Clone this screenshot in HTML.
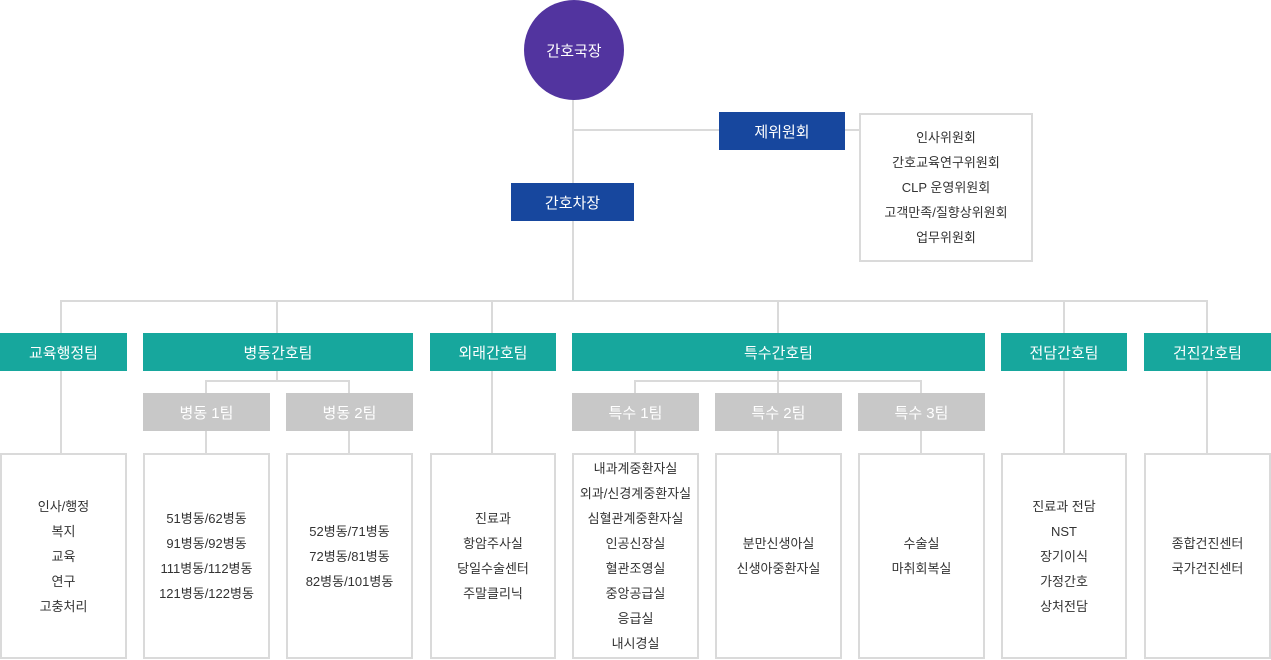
<!DOCTYPE html>
<html><head><meta charset="utf-8"><style>
body{margin:0;width:1271px;height:660px;background:#fff;position:relative;overflow:hidden;font-family:"Liberation Sans","Noto Sans CJK KR",sans-serif}
.a{position:absolute;box-sizing:border-box}
.l{position:absolute;background:#dadada}
.c{display:flex;align-items:center;justify-content:center;text-align:center}
.t{background:#17a79d;color:#fff;font-size:15px;height:38px;top:333px}
.n{background:#17479e;color:#fff;font-size:15px;height:38px}
.s{background:#c8c8c8;color:#fff;font-size:15px;height:38px;top:393px}
.b{border:2px solid #dadada;top:453px;height:206px;color:#333;font-size:13px;line-height:25px}
</style></head><body>
<div class="l" style="left:572px;top:98px;width:2px;height:204px"></div>
<div class="l" style="left:573px;top:129px;width:286px;height:2px"></div>
<div class="l" style="left:60px;top:300px;width:1148px;height:2px"></div>
<div class="l" style="left:60px;top:300px;width:2px;height:153px"></div>
<div class="l" style="left:276px;top:300px;width:2px;height:33px"></div>
<div class="l" style="left:491px;top:300px;width:2px;height:153px"></div>
<div class="l" style="left:777px;top:300px;width:2px;height:33px"></div>
<div class="l" style="left:1063px;top:300px;width:2px;height:153px"></div>
<div class="l" style="left:1206px;top:300px;width:2px;height:153px"></div>
<div class="l" style="left:276px;top:371px;width:2px;height:10px"></div>
<div class="l" style="left:205px;top:380px;width:145px;height:2px"></div>
<div class="l" style="left:205px;top:380px;width:2px;height:73px"></div>
<div class="l" style="left:348px;top:380px;width:2px;height:73px"></div>
<div class="l" style="left:777px;top:371px;width:2px;height:82px"></div>
<div class="l" style="left:634px;top:380px;width:288px;height:2px"></div>
<div class="l" style="left:634px;top:380px;width:2px;height:73px"></div>
<div class="l" style="left:920px;top:380px;width:2px;height:73px"></div>

<div class="a c" style="left:524px;top:0;width:100px;height:100px;border-radius:50%;background:#52349f;color:#fff;font-size:15px">간호국장</div>
<div class="a c n" style="left:719px;top:112px;width:126px">제위원회</div>
<div class="a c n" style="left:511px;top:183px;width:123px">간호차장</div>
<div class="a c" style="left:859px;top:113px;width:174px;height:149px;border:2px solid #dadada;color:#333;font-size:13px;line-height:25px">인사위원회<br>간호교육연구위원회<br>CLP 운영위원회<br>고객만족/질향상위원회<br>업무위원회</div>

<div class="a c t" style="left:0;width:127px">교육행정팀</div>
<div class="a c t" style="left:143px;width:270px">병동간호팀</div>
<div class="a c t" style="left:430px;width:126px">외래간호팀</div>
<div class="a c t" style="left:572px;width:413px">특수간호팀</div>
<div class="a c t" style="left:1001px;width:126px">전담간호팀</div>
<div class="a c t" style="left:1144px;width:127px">건진간호팀</div>

<div class="a c s" style="left:143px;width:127px">병동 1팀</div>
<div class="a c s" style="left:286px;width:127px">병동 2팀</div>
<div class="a c s" style="left:572px;width:127px">특수 1팀</div>
<div class="a c s" style="left:715px;width:127px">특수 2팀</div>
<div class="a c s" style="left:858px;width:127px">특수 3팀</div>

<div class="a c b" style="left:0;width:127px">인사/행정<br>복지<br>교육<br>연구<br>고충처리</div>
<div class="a c b" style="left:143px;width:127px">51병동/62병동<br>91병동/92병동<br>111병동/112병동<br>121병동/122병동</div>
<div class="a c b" style="left:286px;width:127px">52병동/71병동<br>72병동/81병동<br>82병동/101병동</div>
<div class="a c b" style="left:430px;width:126px">진료과<br>항암주사실<br>당일수술센터<br>주말클리닉</div>
<div class="a c b" style="left:572px;width:127px;white-space:nowrap">내과계중환자실<br>외과/신경계중환자실<br>심혈관계중환자실<br>인공신장실<br>혈관조영실<br>중앙공급실<br>응급실<br>내시경실</div>
<div class="a c b" style="left:715px;width:127px">분만신생아실<br>신생아중환자실</div>
<div class="a c b" style="left:858px;width:127px">수술실<br>마취회복실</div>
<div class="a c b" style="left:1001px;width:126px">진료과 전담<br>NST<br>장기이식<br>가정간호<br>상처전담</div>
<div class="a c b" style="left:1144px;width:127px">종합건진센터<br>국가건진센터</div>
</body></html>
